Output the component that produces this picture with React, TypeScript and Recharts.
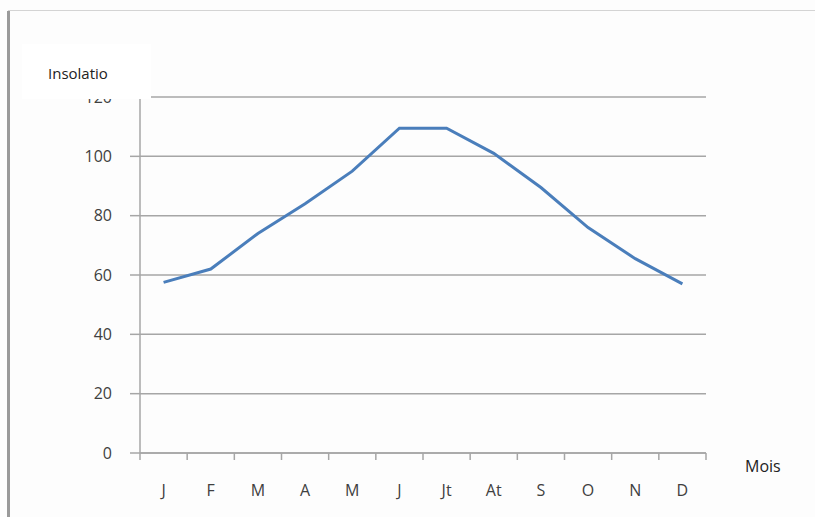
import { LineChart, XAxis, YAxis, CartesianGrid, Line } from 'recharts'

// Ensoleillement moyen mensuel
const mois = ["J", "F", "M", "A", "M", "J", "Jt", "At", "S", "O", "N", "D"]
const insolation = [57.5, 62, 74, 84, 95, 109.5, 109.5, 101, 89.5, 76, 65.5, 57]
const yTicks = [0, 20, 40, 60, 80, 100, 120]

const data = mois.map((m, i) => ({ x: i + 0.5, mois: m, insolation: insolation[i] }))

// ticks entiers = traits de séparation, demi-ticks = libellés des mois
const xTicks: number[] = []
for (let i = 0; i <= mois.length * 2; i++) xTicks.push(i / 2)

const font = "'Open Sans', 'DejaVu Sans', sans-serif"

const MonthTick = (props: any) => {
    const { x, y, payload } = props
    const v = payload.value as number
    if (Number.isInteger(v)) {
        return <line x1={x} y1={y} x2={x} y2={y + 7} stroke="#a6a6a6" strokeWidth={1.5} />
    }
    const label = mois[Math.floor(v)]
    return (
        <text x={x} y={y + 43} textAnchor="middle" fontSize={16} fill="#404040" fontFamily={font}>
            {label}
        </text>
    )
}

const App = () => {
    return (
        <div style={{ position: "absolute", left: 0, top: 0, width: 815, height: 517, background: "#fdfdfd", overflow: "hidden" }}>
            <div style={{ position: "absolute", left: 7, top: 11, width: 3, height: 506, background: "#9a9a9a" }} />
            <div style={{ position: "absolute", left: 8, top: 10, width: 807, height: 1, background: "#d4d4d4" }} />
            <LineChart width={815} height={517} data={data}
                margin={{ top: 97, right: 109, left: 0, bottom: 0 }}>
                <CartesianGrid vertical={false} stroke="#a6a6a6" strokeWidth={1.5} />
                <XAxis dataKey="x" type="number" domain={[0, 12]} ticks={xTicks} interval={0}
                    axisLine={{ stroke: "#a6a6a6", strokeWidth: 1.5 }} tickLine={false}
                    tickSize={0} tickMargin={0}
                    tick={<MonthTick />} height={64} />
                <YAxis domain={[0, 120]} ticks={yTicks} width={140} interval={0}
                    axisLine={{ stroke: "#a6a6a6", strokeWidth: 1.5 }}
                    tickLine={{ stroke: "#a6a6a6", strokeWidth: 1.5 }} tickSize={10} tickMargin={18}
                    tick={{ fontSize: 16, fill: "#404040", fontFamily: font }} />
                <Line type="linear" dataKey="insolation" stroke="#4a7ebb" strokeWidth={3}
                    dot={false} isAnimationActive={false} />
            </LineChart>
            <div style={{ position: "absolute", left: 22, top: 44, width: 129, height: 55, background: "#ffffff" }} />
            <div style={{ position: "absolute", left: 48, top: 63, fontSize: 15, color: "#222", fontFamily: font }}>Insolatio</div>
            <div style={{ position: "absolute", left: 745, top: 455, fontSize: 16, color: "#222", fontFamily: font }}>Mois</div>
        </div>
    )
}

export default App
